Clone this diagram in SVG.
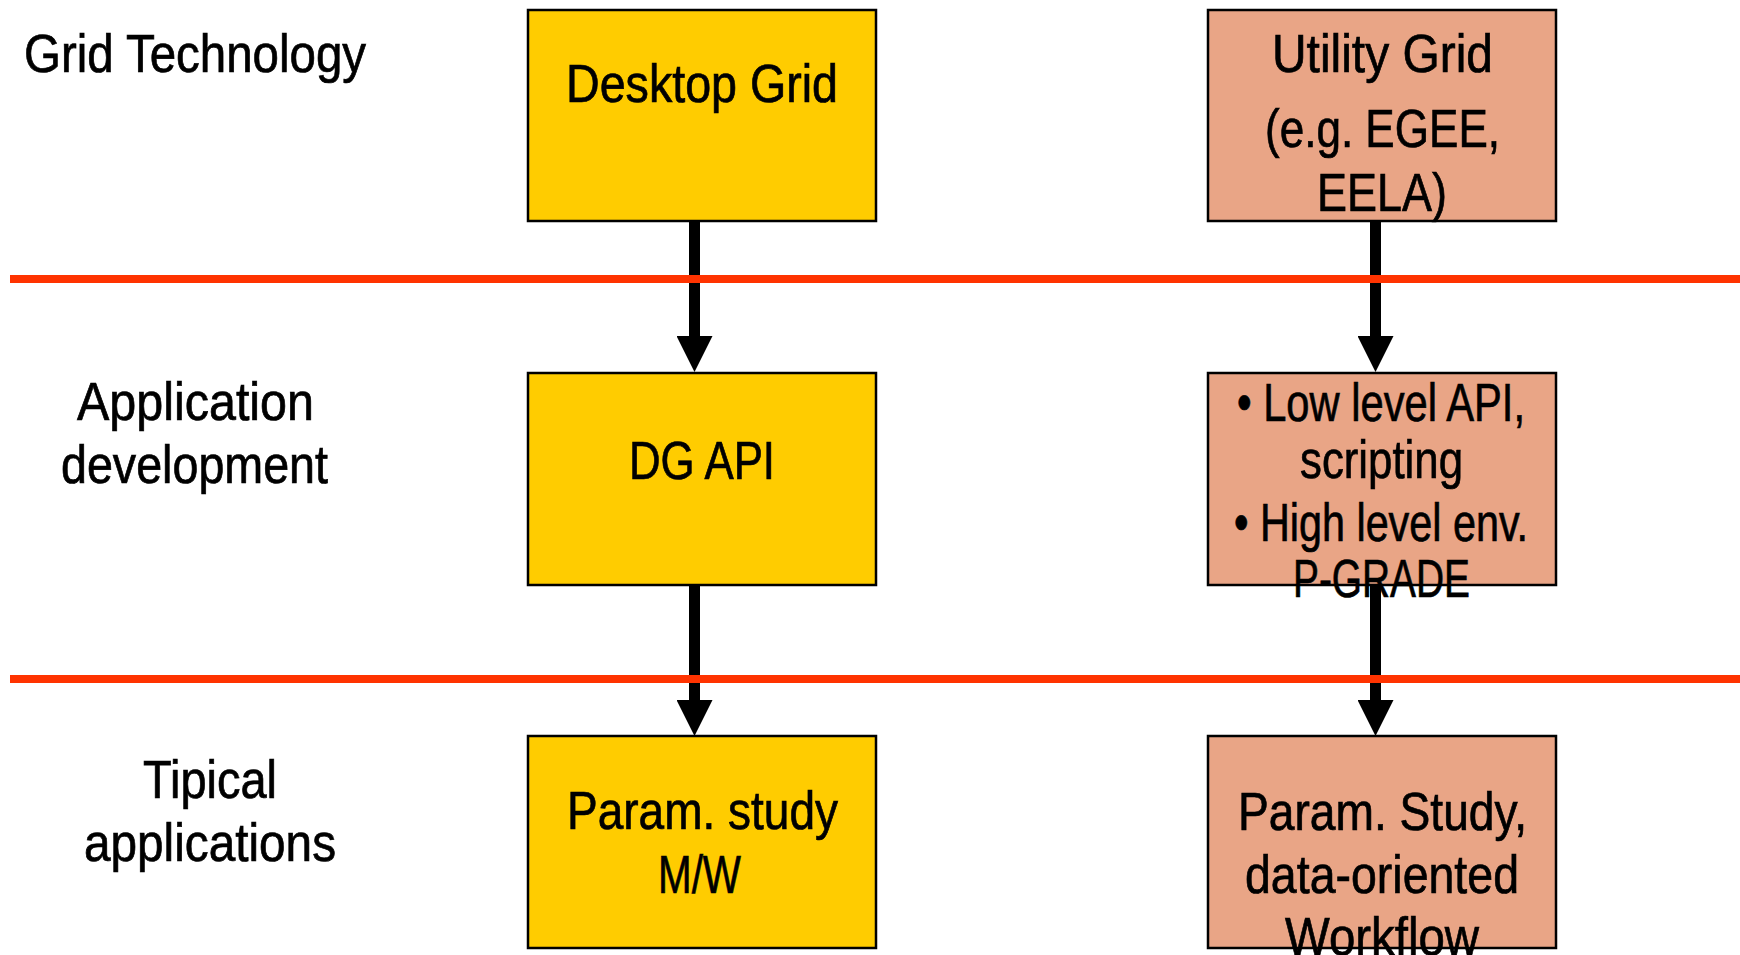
<svg xmlns="http://www.w3.org/2000/svg" width="1740" height="955" viewBox="0 0 1740 955">
  <style>
    .t { font-family: "Liberation Sans Narrow", "Liberation Sans", Arial, sans-serif; font-size: 53px; fill: #000; stroke: #000; stroke-width: 0.7px; }
    .dg { fill: #FFCC00; stroke: #000; stroke-width: 2.5; }
    .ug { fill: #E9A586; stroke: #000; stroke-width: 2.5; }
    .conn { stroke: #000; stroke-width: 11; fill: none; }
    .sep { stroke: #FF3300; stroke-width: 8; }
  </style>
  <defs>
    <marker id="ah" markerUnits="userSpaceOnUse" markerWidth="36" markerHeight="36" refX="19" refY="18" orient="auto">
      <path d="M0,0 L36,18 L0,36 Z" fill="#000"/>
    </marker>
  </defs>
  <rect width="1740" height="955" fill="#fff"/>

  <g id="row-labels">
    <text class="t" x="24" y="72" textLength="342" lengthAdjust="spacingAndGlyphs">Grid Technology</text>
    <text class="t" x="77" y="420" textLength="237" lengthAdjust="spacingAndGlyphs">Application</text>
    <text class="t" x="61" y="483" textLength="267" lengthAdjust="spacingAndGlyphs">development</text>
    <text class="t" x="143" y="798" textLength="134" lengthAdjust="spacingAndGlyphs">Tipical</text>
    <text class="t" x="84" y="861" textLength="252" lengthAdjust="spacingAndGlyphs">applications</text>
  </g>

  <g id="desktop-grid">
    <rect class="dg" x="528" y="10" width="348" height="211"/>
    <text class="t" x="566" y="102" textLength="272" lengthAdjust="spacingAndGlyphs">Desktop Grid</text>
  </g>
  <g id="utility-grid">
    <rect class="ug" x="1208" y="10" width="348" height="211"/>
    <text class="t" x="1272" y="72" textLength="221" lengthAdjust="spacingAndGlyphs">Utility Grid</text>
    <text class="t" x="1265" y="147" textLength="235" lengthAdjust="spacingAndGlyphs">(e.g. EGEE,</text>
    <text class="t" x="1317" y="211" textLength="130" lengthAdjust="spacingAndGlyphs">EELA)</text>
  </g>
  <g id="dg-api">
    <rect class="dg" x="528" y="373" width="348" height="212"/>
    <text class="t" x="629" y="479" textLength="146" lengthAdjust="spacingAndGlyphs">DG API</text>
  </g>
  <g id="ug-api">
    <rect class="ug" x="1208" y="373" width="348" height="212"/>
    <text class="t" x="1237" y="421" textLength="288" lengthAdjust="spacingAndGlyphs">• Low level API,</text>
    <text class="t" x="1300" y="478" textLength="163" lengthAdjust="spacingAndGlyphs">scripting</text>
    <text class="t" x="1234" y="541" textLength="294" lengthAdjust="spacingAndGlyphs">• High level env.</text>
    <text class="t" x="1293" y="597" textLength="177" lengthAdjust="spacingAndGlyphs">P-GRADE</text>
  </g>
  <g id="dg-apps">
    <rect class="dg" x="528" y="736" width="348" height="212"/>
    <text class="t" x="567" y="829" textLength="271" lengthAdjust="spacingAndGlyphs">Param. study</text>
    <text class="t" x="658" y="893" textLength="83" lengthAdjust="spacingAndGlyphs">M/W</text>
  </g>
  <g id="ug-apps">
    <rect class="ug" x="1208" y="736" width="348" height="212"/>
    <text class="t" x="1238" y="830" textLength="289" lengthAdjust="spacingAndGlyphs">Param. Study,</text>
    <text class="t" x="1245" y="893" textLength="274" lengthAdjust="spacingAndGlyphs">data-oriented</text>
    <text class="t" x="1285" y="955" textLength="194" lengthAdjust="spacingAndGlyphs">Workflow</text>
  </g>

  <g id="connectors">
    <line class="conn" x1="694.5" y1="222" x2="694.5" y2="355" marker-end="url(#ah)"/>
    <line class="conn" x1="694.5" y1="586" x2="694.5" y2="719" marker-end="url(#ah)"/>
    <line class="conn" x1="1375.5" y1="222" x2="1375.5" y2="355" marker-end="url(#ah)"/>
    <line class="conn" x1="1375.5" y1="586" x2="1375.5" y2="719" marker-end="url(#ah)"/>
  </g>

  <g id="separators">
    <line class="sep" x1="10" y1="279" x2="1740" y2="279"/>
    <line class="sep" x1="10" y1="679" x2="1740" y2="679"/>
  </g>
</svg>
